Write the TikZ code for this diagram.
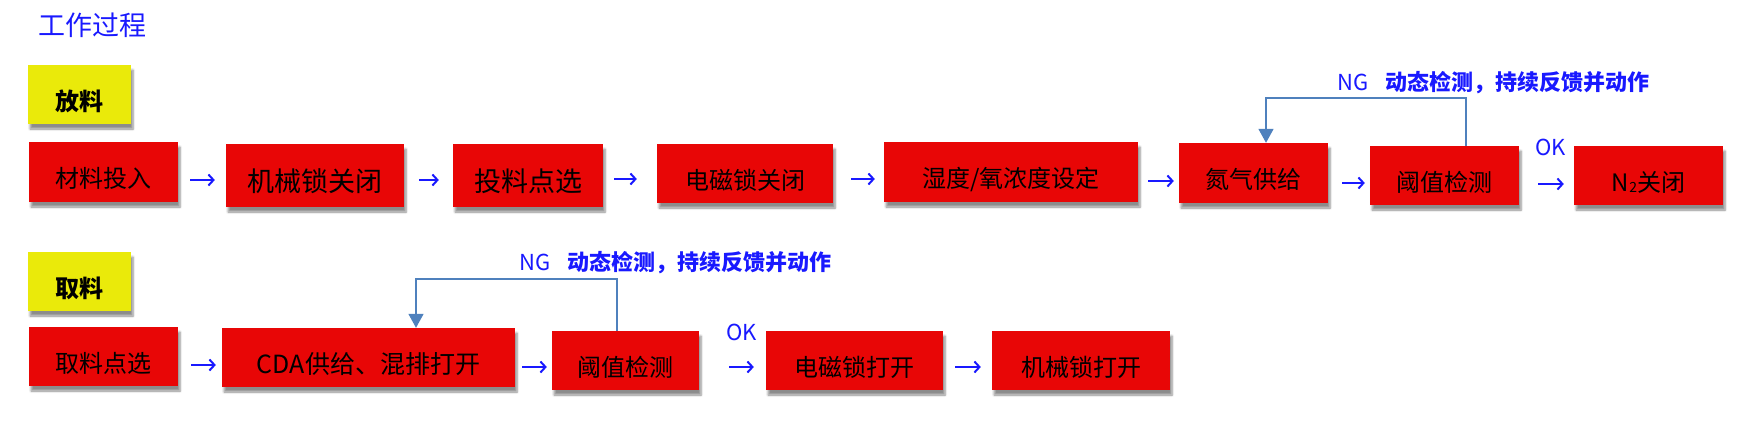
\documentclass[tikz,border=0pt]{standalone}
\usepackage{fontspec}
\setmainfont{Noto Sans CJK SC}
\usetikzlibrary{arrows.meta,shadows.blur}
\definecolor{boxred}{RGB}{232,6,6}
\definecolor{boxyellow}{RGB}{234,234,10}
\definecolor{txtblue}{RGB}{25,25,255}
\definecolor{fbblue}{RGB}{79,129,189}
\tikzset{
  fs/.style={font=\fontsize{#1}{#1}\selectfont},
  basebox/.style={inner sep=0pt, text=black, text height=31pt, text depth=0pt,
    blur shadow={shadow xshift=2pt, shadow yshift=-5pt, shadow blur steps=6, shadow opacity=45}},
  redbox/.style={basebox, fill=boxred},
  yelbox/.style={basebox, fill=boxyellow, font=\fontsize{24}{24}\selectfont\bfseries},
  flow/.style={draw=txtblue, line width=2pt, -{Straight Barb[length=5pt,width=11pt,line width=2pt]}},
  fb/.style={draw=fbblue, line width=1.6pt, -{Triangle[length=14pt,width=15pt]}},
  lbl/.style={text=txtblue, inner sep=0pt, anchor=base west}
}
\begin{document}
\begin{tikzpicture}[x=1pt,y=-1pt]
\useasboundingbox (0,0) rectangle (1756,434);
% title
\node[lbl, fs=27] (title) at (38,35) {工作过程};
% row 1
\node[yelbox, minimum width=103pt, minimum height=59pt] (put) at (79.5,94.5) {放料};
\node[redbox, fs=24, minimum width=149pt, minimum height=60pt] (b1) at (103.5,172) {材料投入};
\node[redbox, fs=27, minimum width=178pt, minimum height=63pt] (b2) at (315,175.5) {机械锁关闭};
\node[redbox, fs=27, minimum width=150pt, minimum height=63pt] (b3) at (528,175.5) {投料点选};
\node[redbox, fs=24, minimum width=176pt, minimum height=59pt] (b4) at (745,173.5) {电磁锁关闭};
\node[redbox, fs=24, minimum width=254pt, minimum height=60pt] (b5) at (1011,172) {湿度/氧浓度设定};
\node[redbox, fs=24, minimum width=149pt, minimum height=60pt] (b6) at (1253.5,173) {氮气供给};
\node[redbox, fs=24, minimum width=149pt, minimum height=59pt] (b7) at (1444.5,175.5) {阈值检测};
\node[redbox, fs=24, minimum width=149pt, minimum height=59pt] (b8) at (1648.5,175.5) {N{\fontsize{14}{14}\selectfont\raisebox{-1pt}{2}}关闭};
\draw[flow, shorten <=12pt, shorten >=11pt] (b1.east |- 0,180) -- (b2.west |- 0,180);
\draw[flow, shorten <=15pt, shorten >=14pt] (b2.east |- 0,180) -- (b3.west |- 0,180);
\draw[flow, shorten <=11pt, shorten >=20pt] (b3.east |- 0,179) -- (b4.west |- 0,179);
\draw[flow, shorten <=18pt, shorten >=9pt] (b4.east |- 0,179) -- (b5.west |- 0,179);
\draw[flow, shorten <=10pt, shorten >=5pt] (b5.east |- 0,181) -- (b6.west |- 0,181);
\draw[flow, shorten <=14pt, shorten >=5pt] (b6.east |- 0,183) -- (b7.west |- 0,183);
\draw[flow, shorten <=19pt, shorten >=10pt] (b7.east |- 0,184) -- (b8.west |- 0,184);
\draw[fb] ([xshift=21.5pt]b7.north) -- ++(0,-48) -| ([xshift=12.5pt]b6.north);
\node[lbl, fs=22] (ng1) at (1337,90) {NG\hspace{0.8em}\textbf{动态检测，持续反馈并动作}};
\node[lbl, fs=22] (ok1) at (1535,155) {OK};
% row 2
\node[yelbox, minimum width=103pt, minimum height=59pt] (take) at (79.5,281.5) {取料};
\node[redbox, fs=24, minimum width=149pt, minimum height=59pt] (c1) at (103.5,356.5) {取料点选};
\node[redbox, fs=25, minimum width=293pt, minimum height=59pt] (c2) at (368.5,357.5) {CDA供给、混排打开};
\node[redbox, fs=24, minimum width=147pt, minimum height=59pt] (c3) at (625.5,360.5) {阈值检测};
\node[redbox, fs=24, minimum width=177pt, minimum height=59pt] (c4) at (854.5,360.5) {电磁锁打开};
\node[redbox, fs=24, minimum width=178pt, minimum height=59pt] (c5) at (1081,360.5) {机械锁打开};
\draw[flow, shorten <=13pt, shorten >=6pt] (c1.east |- 0,365) -- (c2.west |- 0,365);
\draw[flow, shorten <=7pt, shorten >=5pt] (c2.east |- 0,367) -- (c3.west |- 0,367);
\draw[flow, shorten <=30pt, shorten >=12pt] (c3.east |- 0,367) -- (c4.west |- 0,367);
\draw[flow, shorten <=12pt, shorten >=11pt] (c4.east |- 0,367) -- (c5.west |- 0,367);
\draw[fb] ([xshift=-8.5pt]c3.north) -- ++(0,-52) -| ([xshift=47.5pt]c2.north);
\node[lbl, fs=22] (ng2) at (519,270) {NG\hspace{0.8em}\textbf{动态检测，持续反馈并动作}};
\node[lbl, fs=22] (ok2) at (726,340) {OK};
\end{tikzpicture}
\end{document}
